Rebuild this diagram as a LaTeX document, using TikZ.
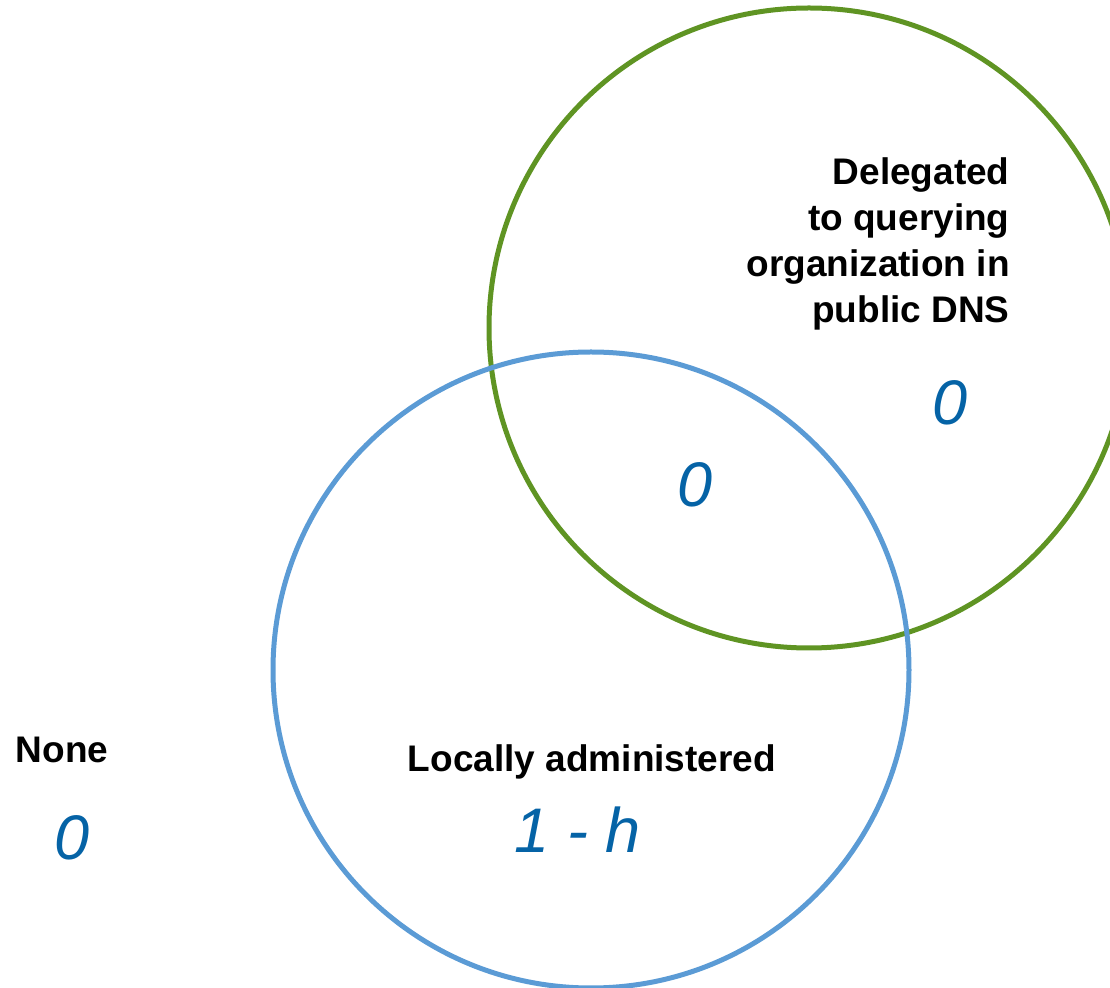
\documentclass[tikz,border=0pt]{standalone}
\usepackage{fontspec}
\setmainfont{Liberation Sans}
\usepackage{tikz}
\usetikzlibrary{positioning}
\definecolor{localblue}{HTML}{5B9BD5}
\definecolor{delegatedgreen}{HTML}{5F9423}
\definecolor{valueblue}{HTML}{0563A6}

\begin{document}
\begin{tikzpicture}[x=0.5pt,y=-0.5pt]

\tikzset{
setlabel/.style={
align=right,
font=\fontsize{18.5}{23}\selectfont\bfseries,
inner sep=0pt
},
setvalue/.style={
text=valueblue,
font=\fontsize{31.5}{36}\selectfont\itshape,
inner sep=0pt
}
}

\useasboundingbox (0,0) rectangle (1110,988);

%--------------------------------------------------
% SETS
%--------------------------------------------------

\begin{scope}
\clip (0,0) rectangle (1110,988);
\draw[delegatedgreen,line width=2.5pt] (809,328) circle[radius=320];
\draw[localblue,line width=2.5pt] (591,670) circle[radius=318];
\end{scope}

%--------------------------------------------------
% LABELS
%--------------------------------------------------

\node[setlabel,anchor=north east] (delegated) at (1010,157)
{Delegated\\to querying\\organization in\\public DNS};

\node[setlabel] (local) at (592,762) {Locally administered};

\node[setlabel] (none) at (62,750) {None};

%--------------------------------------------------
% VALUES
%--------------------------------------------------

\node[setvalue] (delegatedval) at (950,403) {0};
\node[setvalue] (bothval) at (695,485) {0};
\node[setvalue] (localval) at (578,830) {1 - h};
\node[setvalue] (noneval) at (72,838) {0};

\end{tikzpicture}
\end{document}
